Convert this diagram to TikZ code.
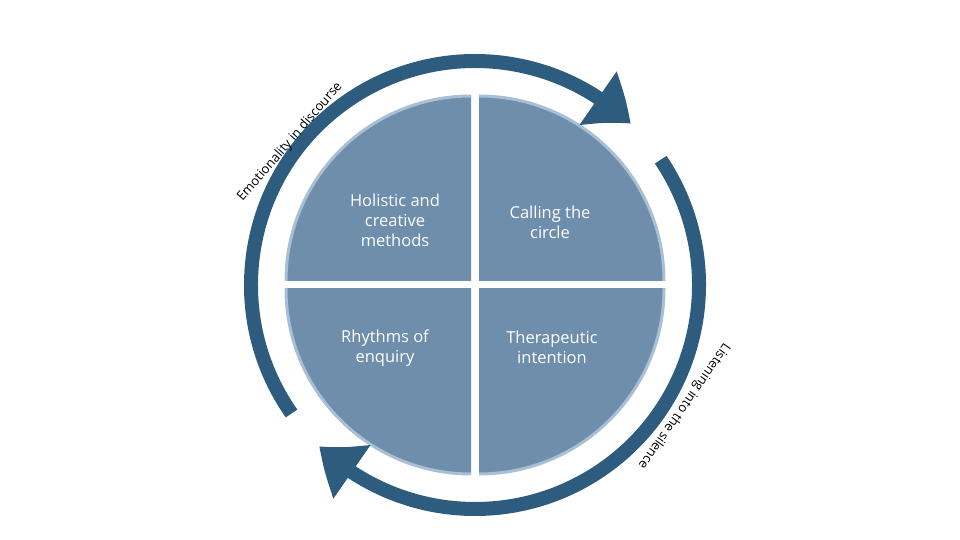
\documentclass[tikz,border=0pt]{standalone}
\usepackage{fontspec}
\setmainfont{Open Sans}
\usetikzlibrary{arrows.meta,bending,calc}
\definecolor{ring}{HTML}{2E5C7E}
\definecolor{quad}{HTML}{6E8EAC}
\definecolor{qedge}{HTML}{A9BFD3}
\tikzset{
  quadtext/.style={text=white,font=\fontsize{16.5}{20}\selectfont,align=center},
  sidetext/.style={text=black,font=\fontsize{13}{15}\selectfont},
  ringarrow/.style={draw=ring,line width=14pt,-{Triangle[width=62pt,length=42pt,bend]}}
}
\begin{document}
\begin{tikzpicture}[x=1pt,y=1pt]
\useasboundingbox (0,0) rectangle (960,540);
\coordinate (c) at (475,255);
% quadrants
\foreach \sx/\sy in {1/1,-1/1,1/-1,-1/-1}{
 \begin{scope}
  \clip ($(c)+(\sx*4,\sy*4)$) rectangle ($(c)+(\sx*220,\sy*220)$);
  \fill[quad,draw=qedge,line width=3pt] ($(c)+(\sx*4,\sy*4)$) circle (185);
 \end{scope}
}
\node[quadtext] (q1) at (395,320) {Holistic and\\creative\\methods};
\node[quadtext] (q2) at (550,318) {Calling the\\circle};
\node[quadtext] (q3) at (385,192) {Rhythms of\\enquiry};
\node[quadtext] (q4) at (552,193) {Therapeutic\\intention};
% ring arrows
\draw[ringarrow] ($(c)+(215:224)$) arc (215:46:224);
\draw[ringarrow] ($(c)+(34:224)$) arc (34:-134:224);
\node[sidetext,rotate=49] (e) at (290,398) {Emotionality in discourse};
\node[sidetext,rotate=-125] (l) at (684,134) {Listening into the silence};
\end{tikzpicture}
\end{document}
